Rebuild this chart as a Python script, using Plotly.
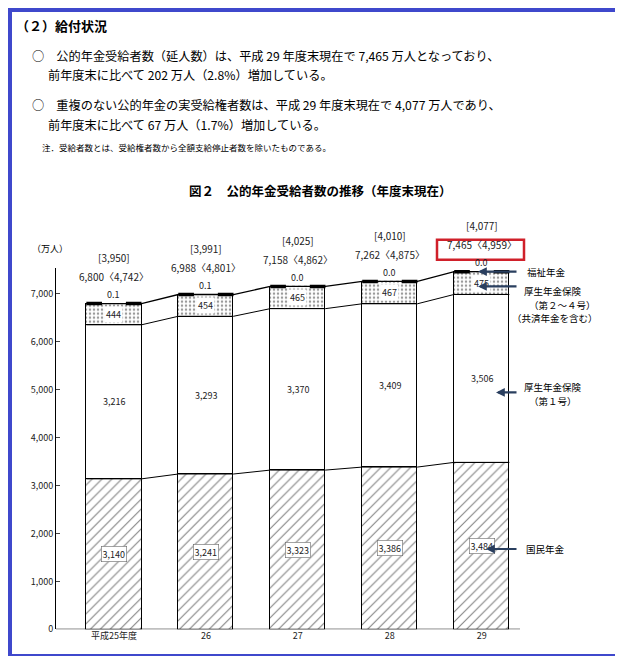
import plotly.graph_objects as go

W, H = 623, 656

years = ["平成25年度", "26", "27", "28", "29"]
kokumin = [3140, 3241, 3323, 3386, 3484]
kosei1 = [3216, 3293, 3370, 3409, 3506]
kosei24 = [444, 454, 465, 467, 475]
fukushi = [0.1, 0.1, 0.0, 0.0, 0.0]
fukushi_txt = ["0.1", "0.1", "0.0", "0.0", "0.0"]
totals = [6800, 6988, 7158, 7262, 7465]
actual = [3950, 3991, 4025, 4010, 4077]
nodup = [4742, 4801, 4862, 4875, 4959]

FONT = "Noto Sans CJK JP"
BW = 0.6
xs = list(range(len(years)))


def px(x):
    return x / W


def py(y):
    return 1 - y / H


fig = go.Figure()
fig.add_bar(x=xs, y=kokumin, width=BW, marker=dict(color="white", line=dict(color="black", width=1),
            pattern=dict(shape="/", fgcolor="black", size=7, solidity=0.15)), showlegend=False)
fig.add_bar(x=xs, y=kosei1, width=BW, marker=dict(color="white", line=dict(color="black", width=1)),
            showlegend=False)
fig.add_bar(x=xs, y=kosei24, width=BW, marker=dict(color="white", line=dict(color="black", width=1),
            pattern=dict(shape=".", fgcolor="#333", size=4, solidity=0.3)), showlegend=False)

# connecting lines between bar levels
c1 = kokumin
c2 = [a + b for a, b in zip(kokumin, kosei1)]
for lev, wd in ((c1, 1), (c2, 1), (totals, 1.3)):
    lx, ly = [], []
    for i in xs:
        lx += [i - BW / 2, i + BW / 2]
        ly += [lev[i], lev[i]]
    fig.add_scatter(x=lx, y=ly, mode="lines", line=dict(color="black", width=wd), showlegend=False,
                    hoverinfo="skip")
# thick top (福祉年金) caps with gap for label
for i in xs:
    for a, b in ((-BW / 2, -0.13), (0.13, BW / 2)):
        fig.add_scatter(x=[i + a, i + b], y=[totals[i], totals[i]], mode="lines",
                        line=dict(color="black", width=3.5), showlegend=False, hoverinfo="skip")
    fig.add_scatter(x=[i - 0.13, i + 0.13], y=[totals[i], totals[i]], mode="lines",
                    line=dict(color="black", width=1, dash="dot"), showlegend=False, hoverinfo="skip")

ann = []
box = dict(bgcolor="white", font=dict(size=9, family=FONT, color="#222"), showarrow=False, xref="x", yref="y")
for i in xs:
    ann.append(dict(x=i, y=kokumin[i] / 2, text=f"{kokumin[i]:,}", bordercolor="#666", borderwidth=0.6, **box))
    ann.append(dict(x=i, y=c1[i] + kosei1[i] / 2, text=f"{kosei1[i]:,}", **box))
    ann.append(dict(x=i, y=c2[i] + kosei24[i] / 2, text=f"{kosei24[i]:,}", **box))
    ann.append(dict(x=i, y=totals[i], yshift=9, text=fukushi_txt[i], **dict(box, bgcolor="rgba(0,0,0,0)")))
    ann.append(dict(x=i, y=totals[i], yshift=27, text=f"{totals[i]:,}〈{nodup[i]:,}〉",
                    **dict(box, bgcolor="rgba(0,0,0,0)", font=dict(size=10, family=FONT, color="#222"))))
    ann.append(dict(x=i, y=totals[i], yshift=46, text=f"[{actual[i]:,}]",
                    **dict(box, bgcolor="rgba(0,0,0,0)", font=dict(size=10, family=FONT, color="#222"))))


def ptext(x, y, text, size=12, bold=False, anchor="left"):
    ann.append(dict(x=px(x), y=py(y), xref="paper", yref="paper", text=f"<b>{text}</b>" if bold else text,
                    showarrow=False, xanchor=anchor, yanchor="middle", align="left",
                    font=dict(size=size, family=FONT, color="black")))


ptext(6, 18, "（２）給付状況", 13, True)
ptext(22, 48, "○　公的年金受給者数（延人数）は、平成 29 年度末現在で 7,465 万人となっており、", 12.2)
ptext(38, 68, "前年度末に比べて 202 万人（2.8%）増加している。", 12.2)
ptext(22, 98, "○　重複のない公的年金の実受給権者数は、平成 29 年度末現在で 4,077 万人であり、", 12.2)
ptext(38, 118, "前年度末に比べて 67 万人（1.7%）増加している。", 12.2)
ptext(32, 140, "注．受給者数とは、受給権者数から全額支給停止者数を除いたものである。", 8.5)
ptext(312, 184, "図２　公的年金受給者数の推移（年度末現在）", 12.5, True, "center")
ptext(42, 243, "（万人）", 9, False, "center")
ptext(517, 266, "福祉年金", 9.5)
ptext(514, 286, "厚生年金保険", 9.5)
ptext(519, 300, "（第２～４号）", 9.5)
ptext(502, 313, "（共済年金を含む）", 9.5)
ptext(514, 382, "厚生年金保険", 9.5)
ptext(519, 397, "（第１号）", 9.5)
ptext(516, 546, "国民年金", 9.5)

shapes = [dict(type="rect", xref="paper", yref="paper", x0=px(2), x1=px(621), y0=py(654), y1=py(2),
               line=dict(color="#3f48cc", width=4)),
          dict(type="rect", xref="paper", yref="paper", x0=px(429), x1=px(516), y0=py(254), y1=py(234),
               line=dict(color="#d0202a", width=2.5))]
for (x0, x1, y) in ((510, 470, 266), (510, 470, 281), (510, 488, 388), (510, 478, 546)):
    ann.append(dict(x=px(x1), y=py(y), ax=x0 - x1, ay=0, xref="paper", yref="paper", axref="pixel",
                    ayref="pixel", showarrow=True, arrowhead=2, arrowsize=0.8, arrowwidth=2.2, text=""))

fig.update_layout(
    width=W, height=H, margin=dict(l=0, r=0, t=0, b=0), barmode="stack", bargap=0,
    plot_bgcolor="white", paper_bgcolor="white", annotations=ann, shapes=shapes,
    font=dict(family=FONT, size=9, color="#222"),
    xaxis=dict(domain=[px(48), px(540)], range=[-0.63, 4.72], tickvals=xs, ticktext=years,
               showline=False, showgrid=False, zeroline=False, ticks=""),
    yaxis=dict(domain=[py(627), py(262)], range=[0, 7550], tickvals=list(range(0, 8000, 1000)),
               tickformat=",", showline=True, linecolor="black", linewidth=1, ticks="inside",
               ticklen=4, showgrid=False, zeroline=False, tickfont=dict(size=9)),
)
fig.add_shape(type="line", xref="paper", yref="y", x0=px(48), x1=px(512), y0=0, y1=0,
              line=dict(color="black", width=1))
fig.write_html("out.html")
